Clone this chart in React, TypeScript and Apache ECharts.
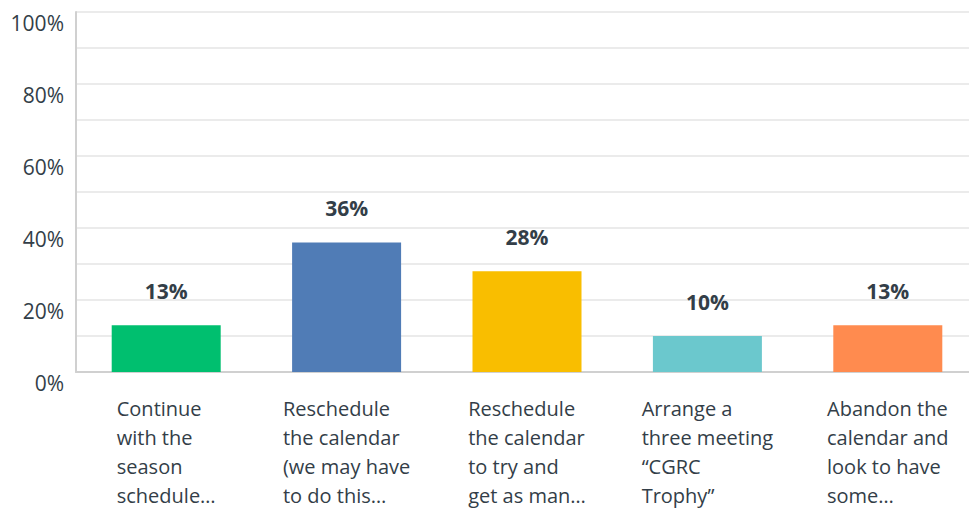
import React, { useEffect, useRef } from "react";
import * as echarts from "echarts";

const categories = [
  "Continue\nwith the\nseason\nschedule…",
  "Reschedule\nthe calendar\n(we may have\nto do this…",
  "Reschedule\nthe calendar\nto try and\nget as man…",
  "Arrange a\nthree meeting\n“CGRC\nTrophy”",
  "Abandon the\ncalendar and\nlook to have\nsome…",
];
const values = [13, 36, 28, 10, 13];
const colors = ["#00bf6f", "#507cb6", "#f9be00", "#6bc8cd", "#ff8b4f"];
const yTickLabels = ["0%", "20%", "40%", "60%", "80%", "100%"];

const FONT = "'Open Sans', sans-serif";
const TEXT = "#333e48";

export default function App() {
  const ref = useRef<HTMLDivElement>(null);
  useEffect(() => {
    if (!ref.current) return;
    const chart = echarts.init(ref.current, null, { renderer: "svg" });
    chart.setOption({
      animation: false,
      backgroundColor: "#ffffff",
      grid: { left: 76, right: 0, top: 12, height: 360, containLabel: false },
      xAxis: {
        type: "category",
        data: categories,
        axisTick: { show: false },
        axisLine: { show: true, lineStyle: { color: "#d0d0d0", width: 2 } },
        axisLabel: {
          interval: 0,
          margin: 22,
          align: "center",
          formatter: (v: string) =>
            v
              .split("\n")
              .map((l) => `{a|${l}}`)
              .join("\n"),
          rich: {
            a: {
              align: "left",
              fontFamily: FONT,
              fontSize: 20,
              lineHeight: 29,
              color: TEXT,
            },
          },
        },
      },
      yAxis: {
        type: "value",
        min: 0,
        max: 100,
        interval: 10,
        axisLine: { show: true, lineStyle: { color: "#d0d0d0", width: 2 } },
        axisTick: { show: false },
        splitLine: { show: true, lineStyle: { color: "#ebebeb", width: 2 } },
        axisLabel: {
          margin: 12,
          verticalAlign: "top",
          fontFamily: FONT,
          fontSize: 21,
          color: TEXT,
          formatter: (v: number) =>
            v % 20 === 0 ? yTickLabels[v / 20] : "",
        },
      },
      series: [
        {
          type: "bar",
          barWidth: 109,
          data: values.map((v, i) => ({
            value: v,
            itemStyle: { color: colors[i] },
          })),
          label: {
            show: true,
            position: "top",
            distance: 24,
            formatter: "{c}%",
            fontFamily: FONT,
            fontSize: 21,
            fontWeight: "bold",
            color: TEXT,
          },
        },
      ],
    });
    return () => chart.dispose();
  }, []);
  return (
    <div
      ref={ref}
      style={{ position: "fixed", left: 0, top: 0, width: 978, height: 510 }}
    />
  );
}
